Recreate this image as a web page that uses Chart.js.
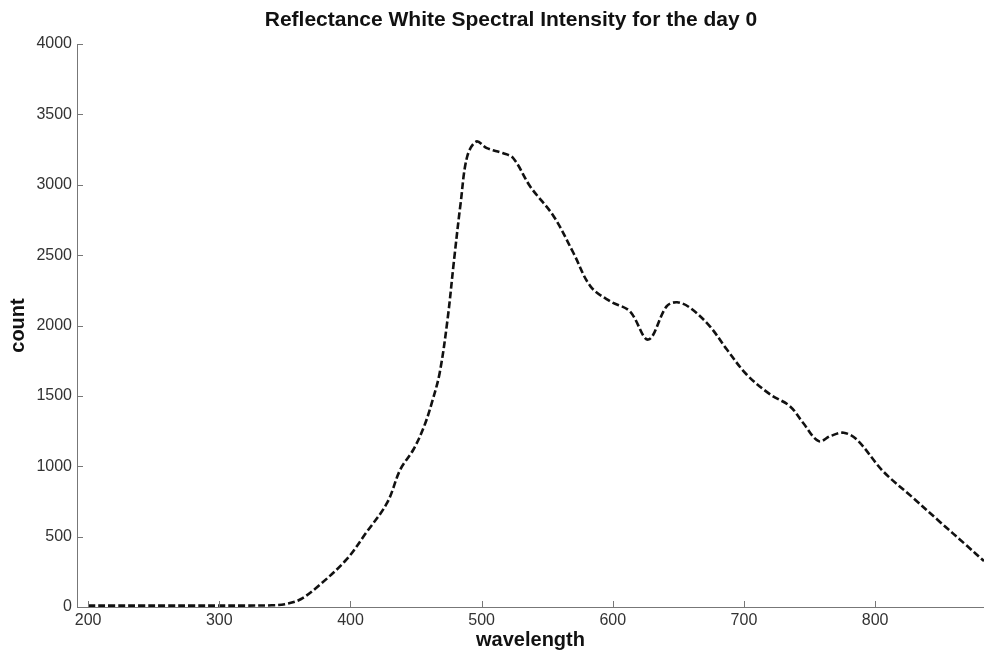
<!DOCTYPE html>
<html>
<head>
<meta charset="utf-8">
<script src="https://cdn.jsdelivr.net/npm/chart.js@4/dist/chart.umd.min.js"></script>
<style>
  html, body { margin: 0; padding: 0; background: #fff; }
  #wrap { width: 984px; height: 655px; position: relative; }
</style>
</head>
<body>
<div id="wrap"><canvas id="c" width="984" height="655"></canvas></div>
<script>
// ---- data ----
const chartTitle = "Reflectance White Spectral Intensity for the day 0";
const xAxisTitle = "wavelength";
const yAxisTitle = "count";
const wavelength = [200, 220, 240, 260, 280, 300, 320, 340, 350, 362, 377, 397, 412, 428, 438, 448, 456, 462, 468, 474, 479, 484, 489, 496, 504, 516, 524, 537, 555, 570, 583, 598, 613, 627, 641, 649, 659, 674, 687, 702, 720, 735, 745, 757, 766, 776, 786, 806, 829, 849, 870, 883];
const counts     = [10, 10, 10, 10, 10, 10, 10, 12, 20, 55, 161, 338, 528, 741, 977, 1119, 1280, 1450, 1663, 2042, 2468, 2870, 3201, 3307, 3260, 3225, 3190, 2988, 2775, 2515, 2278, 2172, 2101, 1900, 2136, 2165, 2125, 1994, 1829, 1652, 1510, 1427, 1309, 1178, 1215, 1238, 1190, 965, 775, 608, 435, 326];
const xTicks = [200, 300, 400, 500, 600, 700, 800];
const yTicks = [0, 500, 1000, 1500, 2000, 2500, 3000, 3500, 4000];

const points = wavelength.map((w, i) => ({ x: w, y: counts[i] }));
const FONT = '"Liberation Sans", Arial, sans-serif';

const inwardTicks = {
  id: 'inwardTicks',
  afterDraw(chart) {
    const ctx = chart.ctx;
    const xs = chart.scales.x, ys = chart.scales.y;
    const area = chart.chartArea;
    ctx.save();
    ctx.strokeStyle = '#777';
    ctx.lineWidth = 1;
    ctx.beginPath();
    xTicks.forEach(v => {
      const p = Math.round(xs.getPixelForValue(v)) + 0.5;
      ctx.moveTo(p, area.bottom);
      ctx.lineTo(p, area.bottom - 6);
    });
    yTicks.forEach(v => {
      const p = Math.round(ys.getPixelForValue(v)) + 0.5;
      ctx.moveTo(area.left, p);
      ctx.lineTo(area.left + 6, p);
    });
    ctx.stroke();
    // title
    ctx.fillStyle = '#111';
    ctx.font = 'bold 21px ' + FONT;
    ctx.textAlign = 'center';
    ctx.textBaseline = 'middle';
    ctx.fillText(chartTitle, 511, 20);
    ctx.restore();
  }
};

new Chart(document.getElementById('c'), {
  type: 'scatter',
  data: {
    datasets: [{
      data: points,
      showLine: true,
      borderColor: '#111',
      borderWidth: 2.6,
      borderDash: [7, 3],
      pointRadius: 0,
      tension: 0.35,
      fill: false
    }]
  },
  options: {
    responsive: false,
    animation: false,
    layout: { padding: { top: 44, right: 0, left: 0, bottom: 0 } },
    plugins: { legend: { display: false }, tooltip: { enabled: false }, title: { display: false } },
    scales: {
      x: {
        type: 'linear',
        min: 191.5,
        max: 883,
        afterBuildTicks: s => { s.ticks = xTicks.map(v => ({ value: v })); },
        afterFit: s => { s.height = 48; },
        grid: { display: true, drawOnChartArea: false, drawTicks: false, color: '#777' },
        border: { display: true, color: '#777', width: 1 },
        ticks: { padding: 4, color: '#333', font: { size: 16, family: FONT }, maxRotation: 0, callback: v => String(v) },
        title: { display: true, text: xAxisTitle, color: '#111', padding: { top: 0, bottom: 3 }, font: { size: 20, weight: 'bold', family: FONT } }
      },
      y: {
        min: 0,
        max: 4000,
        afterBuildTicks: s => { s.ticks = yTicks.map(v => ({ value: v })); },
        afterFit: s => { s.width = 77; },
        grid: { display: true, drawOnChartArea: false, drawTicks: false, color: '#777' },
        border: { display: true, color: '#777', width: 1 },
        ticks: { padding: 5, color: '#333', font: { size: 16, family: FONT }, callback: v => String(v) },
        title: { display: true, text: yAxisTitle, color: '#111', padding: { top: 6, bottom: 0 }, font: { size: 20, weight: 'bold', family: FONT } }
      }
    }
  },
  plugins: [inwardTicks]
});
</script>
</body>
</html>
